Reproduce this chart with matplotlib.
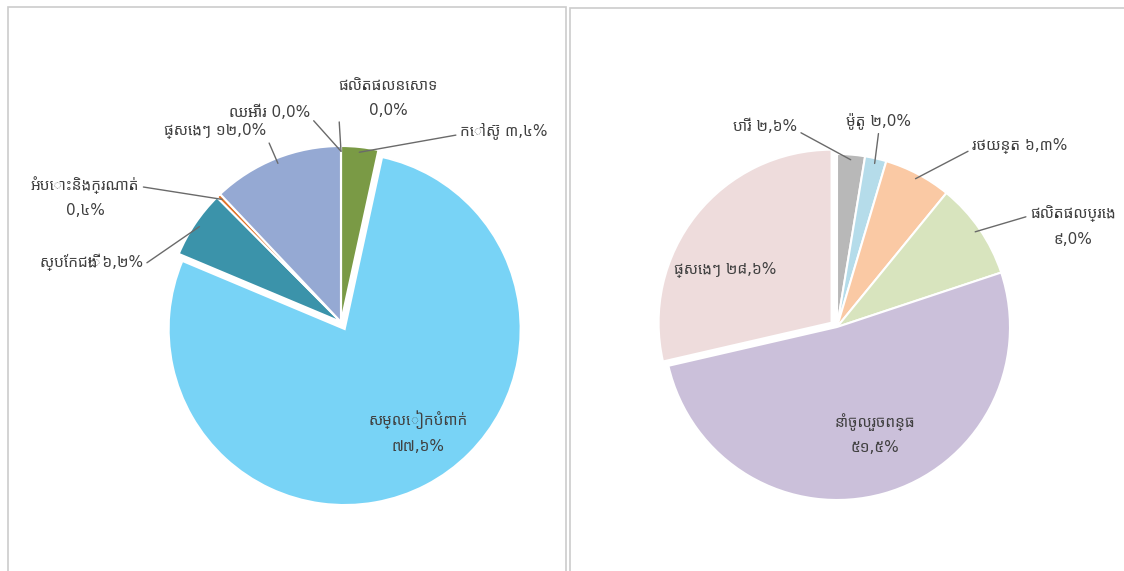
import numpy as np
import matplotlib
matplotlib.use("Agg")
from matplotlib import pyplot as plt
from matplotlib import font_manager
from matplotlib.ft2font import FT2Font
from matplotlib.patches import Rectangle

# --- data -------------------------------------------------------------
left_labels = ["ផលិតផលនេសាទ\n0,0%", "កៅស៊ូ ៣,៤%", "សម្លៀកបំពាក់\n៧៧,៦%",
               "ស្បែកជើង ៦,២%", "អំបោះនិងក្រណាត់\n0,៤%", "ផ្សេងៗ ១២,0%", "ឈើអារ 0,0%"]
left_values = [0.0, 3.4, 77.6, 6.2, 0.4, 12.0, 0.0]
left_colors = ["#77933c", "#7a9a45", "#78d3f6", "#3b93aa", "#e0732a", "#95a9d3", "#b0b0b0"]

right_labels = ["បារី ២,៦%", "ម៉ូតូ ២,0%", "រថយន្ត ៦,៣%", "ផលិតផលប្រេង\n៩,0%",
                "នាំចូលរួចពន្ធ\n៥១,៥%", "ផ្សេងៗ ២៨,៦%"]
right_values = [2.6, 2.0, 6.3, 9.0, 51.5, 28.6]
right_colors = ["#b8b8b8", "#b5dcea", "#fac9a4", "#d8e4be", "#cbc0da", "#eedcdc"]


# find a font that has khmer glyphs
def khmer_fonts():
    found = []
    for f in font_manager.fontManager.ttflist:
        try:
            if 0x1780 in FT2Font(f.fname).get_charmap() and f.name not in found:
                found.append(f.name)
        except Exception:
            pass
    found.sort(key=lambda n: (0 if "Sans" in n else 1, n))
    return found


plt.rcParams["font.family"] = ["DejaVu Sans"] + khmer_fonts()
TXT = "#404040"
LINE = "#6a6a6a"
FS = 11

W, H = 1124, 571
fig = plt.figure(figsize=(W / 100, H / 100), dpi=100)
fig.patch.set_facecolor("white")

# panel frames (pixels: left, top, right)
for x0, y0, x1 in [(8, 7, 566), (570, 8, 1140)]:
    fig.patches.append(Rectangle((x0 / W, -0.1), (x1 - x0) / W, 1 - y0 / H + 0.1,
                                 transform=fig.transFigure, fill=False,
                                 edgecolor="#cccccc", lw=1.2))


def draw(box, cx, cy, r, values, colors, labels, explode, pos, has_line, relpos, ha):
    # box and pos in pixels from the top-left corner
    l, t, rr, b = box
    ax = fig.add_axes([l / W, 1 - b / H, (rr - l) / W, (b - t) / H])
    wedges, _ = ax.pie(values, colors=colors, startangle=90, counterclock=False,
                       explode=explode, radius=1.0,
                       wedgeprops=dict(edgecolor="white", linewidth=1.5))
    ax.set_aspect("auto")
    ax.set_xlim((l - cx) / r, (rr - cx) / r)
    ax.set_ylim((cy - b) / r, (cy - t) / r)
    ax.axis("off")
    for i, w in enumerate(wedges):
        ang = np.deg2rad((w.theta1 + w.theta2) / 2)
        c = w.center
        anchor = (c[0] + np.cos(ang) * 0.97, c[1] + np.sin(ang) * 0.97)
        xy = ((pos[i][0] - cx) / r, (cy - pos[i][1]) / r)
        if has_line[i]:
            ax.annotate(labels[i], xy=anchor, xytext=xy, ha=ha[i], va="center",
                        multialignment="center",
                        fontsize=FS, color=TXT, linespacing=1.8,
                        arrowprops=dict(arrowstyle="-", color=LINE, lw=1,
                                        relpos=relpos[i], shrinkA=1, shrinkB=0))
        else:
            ax.text(xy[0], xy[1], labels[i], ha=ha[i], va="center",
                    multialignment="center",
                    fontsize=FS, color=TXT, linespacing=1.8)
    return ax


draw((8, 7, 566, 571), 341, 322, 176, left_values, left_colors, left_labels,
     explode=[0, 0, 0.045, 0, 0, 0, 0],
     pos=[(388, 98), (460, 131), (418, 432), (143, 262), (85, 197), (266, 131), (310, 112)],
     has_line=[True, True, False, True, True, True, True],
     relpos=[(0.0, 0.25), (0.0, 0.3), (0.5, 0.5), (1.0, 0.3), (1.0, 0.75), (1.0, 0.2), (1.0, 0.2)],
     ha=["center", "left", "center", "right", "center", "right", "right"])

draw((570, 8, 1124, 571), 837, 327, 173, right_values, right_colors, right_labels,
     explode=[0, 0, 0, 0, 0, 0.04],
     pos=[(797, 126), (879, 121), (972, 146), (1030, 226), (875, 434), (725, 270)],
     has_line=[True, True, True, True, False, False],
     relpos=[(1.0, 0.2), (0.5, 0.0), (0.0, 0.3), (0.0, 0.75), (0.5, 0.5), (0.5, 0.5)],
     ha=["right", "center", "left", "left", "center", "center"])

fig.savefig("out.png", dpi=100)
